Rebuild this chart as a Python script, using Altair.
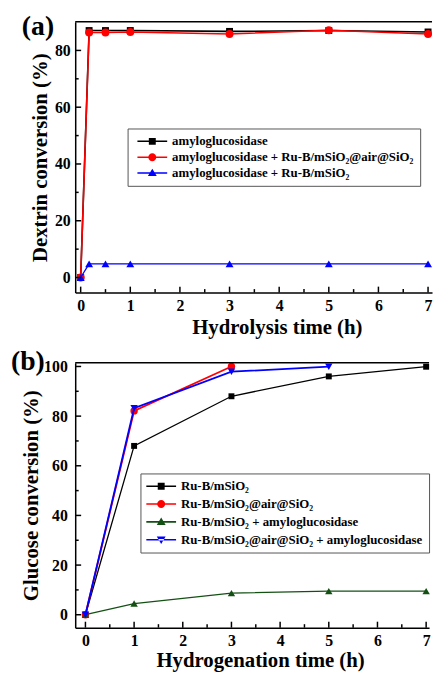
import altair as alt
import pandas as pd

# ---------------- data: panel (a) ----------------
HYDRO_TIME = [0, 0.17, 0.5, 1, 3, 5, 7]
DEXTRIN_AMY = [0, 87.0, 87.0, 87.0, 86.7, 87.0, 86.5]
DEXTRIN_AMY_RU_AIR = [0, 86.3, 86.3, 86.5, 85.8, 87.1, 85.8]
DEXTRIN_AMY_RU = [0, 4.8, 4.8, 4.8, 4.8, 4.8, 4.8]
SERIES_A = [
    "amyloglucosidase",
    "amyloglucosidase + Ru-B/mSiO₂@air@SiO₂",
    "amyloglucosidase + Ru-B/mSiO₂",
]

# ---------------- data: panel (b) ----------------
HYDROG_TIME = [0, 1, 3, 5, 7]
GLU_RU = [0, 68.0, 88.0, 96.0, 99.9]
GLU_RU_AIR_TIME = [0, 1, 3]
GLU_RU_AIR = [0, 82.1, 100.0]
GLU_RU_AMY = [0, 4.5, 8.7, 9.5, 9.5]
GLU_RU_AIR_AMY_TIME = [0, 1, 3, 5]
GLU_RU_AIR_AMY = [0, 83.2, 97.9, 99.9]
SERIES_B = [
    "Ru-B/mSiO₂",
    "Ru-B/mSiO₂@air@SiO₂",
    "Ru-B/mSiO₂ + amyloglucosidase",
    "Ru-B/mSiO₂@air@SiO₂ + amyloglucosidase",
]

X_TICKS = [0, 1, 2, 3, 4, 5, 6, 7]
X_MINOR = [0.5, 1.5, 2.5, 3.5, 4.5, 5.5, 6.5]

FONT = "Liberation Serif"

# legend symbol paths (a thin filled bar through the marker); unit = 7 px (symbolSize 14^2)
WING = "M-2.15,-0.11H2.15V0.11H-2.15Z"
P_SQUARE = WING + "M-0.5,-0.5H0.5V0.5H-0.5Z"
P_CIRCLE = WING + "M-0.58,0A0.58,0.58,0,1,1,0.58,0A0.58,0.58,0,1,1,-0.58,0Z"
P_TRI_UP = WING + "M0,-0.62L0.64,0.45L-0.64,0.45Z"
P_TRI_DN = WING + "M0,0.62L0.64,-0.45L-0.64,-0.45Z"


def panel(series_data, names, colors, shapes, paths, widths, sizes,
          xdom, ydom, yvals, yminor, W, H, xtitle, ytitle, xtitle_x,
          ylabpad, ytitlepad, xlabpad, xtitlepad,
          tag, tag_x, tag_y, spacer_x, spacer_top,
          leg_x, leg_y, leg_symoff, leg_rowpad):
    x = alt.X("t:Q", scale=alt.Scale(domain=xdom, nice=False, zero=False),
              axis=alt.Axis(values=X_TICKS, format="d", title=xtitle, titleX=xtitle_x,
                            labelPadding=xlabpad, titlePadding=xtitlepad))
    y = alt.Y("v:Q", scale=alt.Scale(domain=ydom, nice=False, zero=False),
              axis=alt.Axis(values=yvals, format="d", title=ytitle,
                            labelPadding=ylabpad, titlePadding=ytitlepad))
    layers = []
    for (tt, vv), c, sh, w, sz in zip(series_data, colors, shapes, widths, sizes):
        d = pd.DataFrame({"t": tt, "v": vv})
        base = alt.Chart(d)
        layers.append(base.mark_line(color=c, strokeWidth=w).encode(x=x, y=y))
        layers.append(base.mark_point(shape=sh, filled=True, size=sz, color=c,
                                      opacity=1).encode(x=x, y=y))

    # inward ticks
    layers.append(alt.Chart(pd.DataFrame({"t": X_TICKS})).mark_rule(color="black", strokeWidth=1.5)
                  .encode(x=x, y=alt.value(H), y2=alt.value(H - 6)))
    layers.append(alt.Chart(pd.DataFrame({"t": X_MINOR})).mark_rule(color="black", strokeWidth=1.5)
                  .encode(x=x, y=alt.value(H), y2=alt.value(H - 3.5)))
    layers.append(alt.Chart(pd.DataFrame({"v": yvals})).mark_rule(color="black", strokeWidth=1.5)
                  .encode(y=y, x=alt.value(0), x2=alt.value(6)))
    layers.append(alt.Chart(pd.DataFrame({"v": yminor})).mark_rule(color="black", strokeWidth=1.5)
                  .encode(y=y, x=alt.value(0), x2=alt.value(3.5)))
    # top frame
    layers.append(alt.Chart(pd.DataFrame({"k": [0]})).mark_rule(color="black", strokeWidth=1.5)
                  .encode(x=alt.value(0), x2=alt.value(W), y=alt.value(0)))
    # panel tag
    layers.append(alt.Chart(pd.DataFrame({"k": [0]})).mark_text(
        text=tag, font=FONT, fontSize=28, fontWeight="bold", align="left",
        baseline="alphabetic", color="black").encode(x=alt.value(tag_x), y=alt.value(tag_y)))
    # layout spacer (invisible)
    layers.append(alt.Chart(pd.DataFrame({"k": [0]})).mark_rule(strokeOpacity=0, color="white")
                  .encode(x=alt.value(spacer_x), y=alt.value(spacer_top), y2=alt.value(0)))

    # legend carrier (no marks drawn)
    leg = alt.Legend(title=None, orient="none", legendX=leg_x, legendY=leg_y,
                     padding=6, strokeColor="#555555", symbolSize=196,
                     symbolStrokeWidth=0, symbolOffset=leg_symoff, labelOffset=13,
                     rowPadding=leg_rowpad, labelFont=FONT, labelFontSize=13,
                     labelFontWeight="bold", labelColor="black", labelLimit=400)
    layers.append(alt.Chart(pd.DataFrame({"s": names})).transform_filter("false")
                  .mark_point(opacity=1, filled=True)
                  .encode(color=alt.Color("s:N", scale=alt.Scale(domain=names, range=colors), legend=leg),
                          shape=alt.Shape("s:N", scale=alt.Scale(domain=names, range=paths), legend=leg)))
    return alt.layer(*layers).properties(width=W, height=H)


pa = panel(
    [(HYDRO_TIME, DEXTRIN_AMY), (HYDRO_TIME, DEXTRIN_AMY_RU_AIR), (HYDRO_TIME, DEXTRIN_AMY_RU)],
    SERIES_A, ["#000000", "#ff0000", "#0000ff"],
    ["square", "circle", "triangle-up"], [P_SQUARE, P_CIRCLE, P_TRI_UP],
    [1.6, 1.6, 1.3], [49, 64, 64],
    [-0.11, 7.08], [-5.3, 90.1], [0, 20, 40, 60, 80], [10, 30, 50, 70],
    361, 274, "Hydrolysis time (h)", "Dextrin conversion (%)", 204,
    5, 4, 5, 3,
    "(a)", -54, 13, -64, -8,
    53, 108, 12, 2)

pb = panel(
    [(HYDROG_TIME, GLU_RU), (GLU_RU_AIR_TIME, GLU_RU_AIR), (HYDROG_TIME, GLU_RU_AMY),
     (GLU_RU_AIR_AMY_TIME, GLU_RU_AIR_AMY)],
    SERIES_B, ["#000000", "#ff0000", "#145014", "#0000ff"],
    ["square", "circle", "triangle-up", "triangle-down"], [P_SQUARE, P_CIRCLE, P_TRI_UP, P_TRI_DN],
    [1.3, 1.8, 1.3, 1.8], [36, 56, 56, 56],
    [-0.21, 7.06], [-5.2, 101.5], [0, 20, 40, 60, 80, 100], [10, 30, 50, 70, 90],
    358, 268, "Hydrogenation time (h)", "Glucose conversion (%)", 187,
    8, 2, 5, 1,
    "(b)", -65, 7, -67, -24,
    66, 112, 8, 4)

chart = (alt.vconcat(pa, pb, spacing=0)
         .resolve_scale(x="independent", y="independent", color="independent",
                        shape="independent")
         .properties(padding=0)
         .configure_view(stroke="transparent")
         .configure_axis(labelFont=FONT, labelFontSize=16, labelFontWeight="bold",
                         labelColor="black", titleFont=FONT, titleFontSize=21,
                         titleFontWeight="bold", titleColor="black", ticks=False,
                         grid=False, domain=True, domainColor="black", domainWidth=1.5))

chart.save("out.html", embed_options={"renderer": "svg", "actions": False})
